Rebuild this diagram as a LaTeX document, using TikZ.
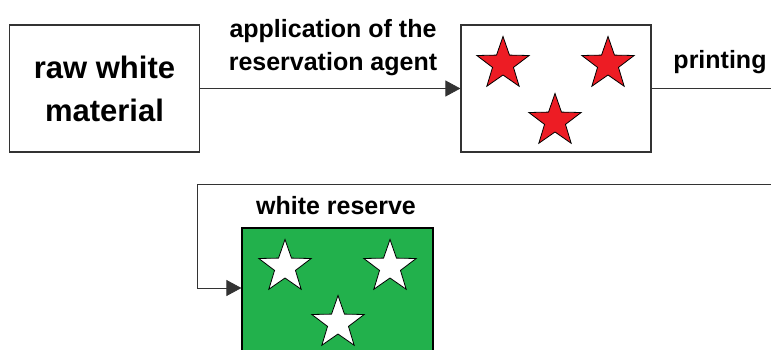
\documentclass[tikz,border=0pt]{standalone}
\usepackage{fontspec}
\setmainfont{Liberation Sans}
\usetikzlibrary{arrows.meta,positioning,shapes.geometric}
\definecolor{paintgreen}{RGB}{34,177,76}
\definecolor{paintred}{RGB}{237,28,36}

\begin{document}
\begin{tikzpicture}[
  x=1pt, y=-1pt,
  font=\bfseries,
  box/.style={
    draw=black!80,
    line width=1.2pt,
    minimum width=190pt,
    minimum height=127pt,
    inner sep=0pt,
    align=center
  },
  label/.style={font=\bfseries\fontsize{25}{33}\selectfont, align=center, inner sep=0pt},
  staricon/.style={star, star points=5, star point ratio=2.5, minimum size=55pt,
    inner sep=0pt, draw=black, line width=0.8pt},
  arrow/.style={-{Triangle[length=15pt, width=16pt]}, line width=0.8pt, draw=black!80}
]
\useasboundingbox (0,0) rectangle (771,350);
\clip (0,0) rectangle (771,350);

\node[box, font=\bfseries\fontsize{31}{43}\selectfont] (raw) at (104.5,88.5) {raw white\\material};
\node[box] (treated) at (556,88.5) {};
\node[box, fill=paintgreen, draw=black, minimum width=191pt, minimum height=160pt] (reserve) at (337.5,308) {};

% stars of the reservation agent
\node[staricon, fill=paintred] (red1) at (503,64) {};
\node[staricon, fill=paintred] (red2) at (608,64) {};
\node[staricon, fill=paintred] (red3) at (555,121) {};
\node[staricon, fill=white] (white1) at (285,267) {};
\node[staricon, fill=white] (white2) at (390,267) {};
\node[staricon, fill=white] (white3) at (338,323) {};

\node[label] (apply) at (333,48) {application of the\\reservation agent};
\node[label] (printing) at (720,62) {printing};
\node[label] (whitelabel) at (336,206) {white reserve};

\coordinate (printout) at (771,88.5);
\coordinate (loopout) at (771,184);
\coordinate (loopin) at (197,288);

\draw[arrow] (raw) -- (treated);
\draw[line width=0.8pt, draw=black!80] (treated) -- (printout);
\draw[arrow] (loopout) -| (loopin) -- (loopin -| reserve.west);

\end{tikzpicture}
\end{document}
